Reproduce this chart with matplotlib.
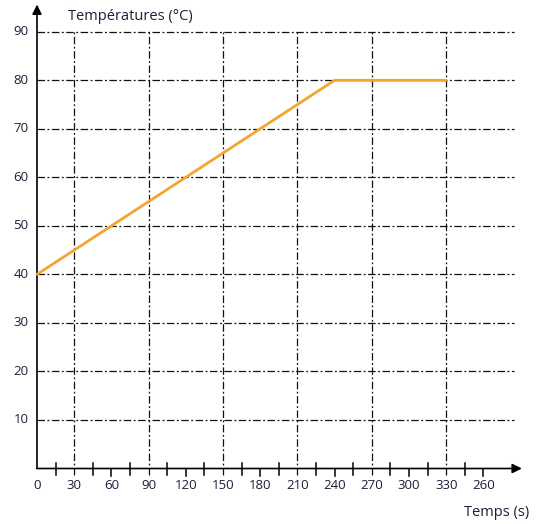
import matplotlib
matplotlib.use("Agg")
import matplotlib.pyplot as plt

# Heating curve: temperature (°C) versus time (s)
time_s = [0, 240, 330]
temperature_c = [40, 80, 80]

x_tick_values = [0, 30, 60, 90, 120, 150, 180, 210, 240, 270, 300, 330, 360]
x_tick_labels = ["0", "30", "60", "90", "120", "150", "180", "210", "240",
                 "270", "300", "330", "260"]
y_tick_values = [10, 20, 30, 40, 50, 60, 70, 80, 90]
x_grid_values = [30, 90, 150, 210, 270, 330]
x_cross_ticks = [15, 45, 75, 105, 135, 165, 195, 225, 255, 285, 315, 345]
x_down_ticks = [60, 120, 180, 240, 300, 360]

plt.rcParams["font.family"] = ["Open Sans", "DejaVu Sans"]
text_color = "#1e1e38"

W, H = 541, 524
fig = plt.figure(figsize=(W / 100, H / 100), dpi=100)
ax = fig.add_axes([0, 0, 1, 1])
ax.set_axis_off()

# pixel mapping: x = 0 at px 37, 1.24 px per second; y = 0 at px 468.5, 4.853 px per °C
x0_px, sx = 37.0, 1.24
y0_px, sy = 468.5, 4.853
ax.set_xlim((0 - x0_px) / sx, (W - x0_px) / sx)
ax.set_ylim((y0_px - H) / sy, y0_px / sy)

grid_kw = dict(color="#111111", lw=0.9, dashes=(6, 2, 1.5, 2), zorder=1)
x_grid_end = 385
for yv in y_tick_values:
    ax.plot([0, x_grid_end], [yv, yv], **grid_kw)
for xv in x_grid_values:
    ax.plot([xv, xv], [-1.3, 90], **grid_kw)

# axes with arrow heads
ax.annotate("", xy=(391, 0), xytext=(0, 0),
            arrowprops=dict(arrowstyle="-|>", color="black", lw=1.2,
                            mutation_scale=14, shrinkA=0, shrinkB=0), zorder=3)
ax.annotate("", xy=(0, 95.6), xytext=(0, 0),
            arrowprops=dict(arrowstyle="-|>", color="black", lw=1.2,
                            mutation_scale=14, shrinkA=0, shrinkB=0), zorder=3)

# x-axis tick marks
for xv in x_cross_ticks:
    ax.plot([xv, xv], [-1.3, 1.2], color="black", lw=1.1, zorder=3)
for xv in x_down_ticks:
    ax.plot([xv, xv], [-1.5, 0], color="black", lw=1.1, zorder=3)

# temperature curve
ax.plot(time_s, temperature_c, color="#F2A630", lw=2.0,
        solid_capstyle="round", zorder=4)

# tick labels
for xv, lab in zip(x_tick_values, x_tick_labels):
    ax.text(xv, -3.5, lab, ha="center", va="center", fontsize=9.5,
            color=text_color)
for yv in y_tick_values:
    ax.text(-6.8, yv, str(yv), ha="right", va="center", fontsize=9.5,
            color=text_color)

# axis titles
ax.text(25, 93.2, "Températures (°C)", ha="left", va="center",
        fontsize=10.5, color=text_color)
ax.text(371, -9.0, "Temps (s)", ha="center", va="center",
        fontsize=10.5, color=text_color)

fig.savefig("out.png", dpi=100)
